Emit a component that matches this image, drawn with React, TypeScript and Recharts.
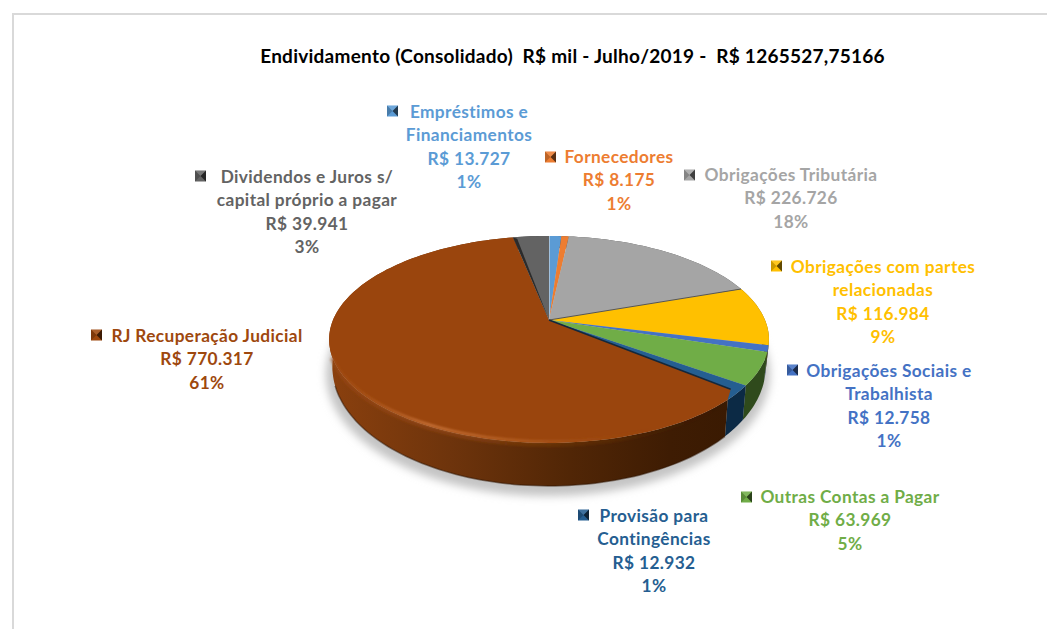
import { PieChart, Pie, Cell } from 'recharts'

const sliceNames = [
  'Empréstimos e Financiamentos', 'Fornecedores', 'Obrigações Tributária',
  'Obrigações com partes relacionadas', 'Obrigações Sociais e Trabalhista',
  'Outras Contas a Pagar', 'Provisão para Contingências',
  'RJ Recuperação Judicial', 'Dividendos e Juros s/ capital próprio a pagar',
]
const sliceValues = [13727, 8175, 226726, 116984, 12758, 63969, 12932, 770317, 39941]
const valueLabels = ['R$ 13.727', 'R$ 8.175', 'R$ 226.726', 'R$ 116.984', 'R$ 12.758', 'R$ 63.969', 'R$ 12.932', 'R$ 770.317', 'R$ 39.941']
const percentLabels = ['1%', '1%', '18%', '9%', '1%', '5%', '1%', '61%', '3%']
const nameLines = [
  ['Empréstimos e', 'Financiamentos'], ['Fornecedores'], ['Obrigações Tributária'],
  ['Obrigações com partes', 'relacionadas'], ['Obrigações Sociais e', 'Trabalhista'],
  ['Outras Contas a Pagar'], ['Provisão para', 'Contingências'],
  ['RJ Recuperação Judicial'], ['Dividendos e Juros s/', 'capital próprio a pagar'],
]

const topColors = ['#5b9bd5', '#ed7d31', '#a5a5a5', '#ffc000', '#4472c4', '#70ad47', '#255e91', '#9a450d', '#636363']
const textColors = ['#5b9bd5', '#ed7d31', '#a5a5a5', '#ffc000', '#4472c4', '#70ad47', '#255e91', '#9e480e', '#636363']
const wallColors = ['#2c4c69', '#743d18', '#515151', '#7d5e00', '#213860', '#2f4a1c', '#0c2a45', 'url(#rjWall)', '#303030']

// label layout: centre x, first line middle y, marker left x, marker middle y
const labelSpots = [
  [469, 111, 387, 111], [619, 156, 545, 157], [791, 174, 684, 175],
  [883, 266, 771, 266], [889, 370, 787, 370], [850, 496, 741, 497],
  [654, 515, 578, 515], [207, 335, 91, 335], [307, 176, 195, 176],
]

const chartData = sliceNames.map((name, i) => ({ name, value: sliceValues[i] }))

const CX = 549
const CY = 320
const RADIUS = 216
const SQUASH = 0.462
const PERSP = 0.188
const DISC_MID = 339.5
const LOW_MID = 367
const LOW_X = 0.985
const LOW_Y = 1.15
// the bevel pulls the RJ corner back, the slice before it shows round the corner
const BEVEL_DEG = 4.5
const FONT = 'Lato, Carlito, Calibri, sans-serif'

// tilted disc with some perspective, the apex is above the middle of the ellipse
function project(cx: number, cy: number, r: number, deg: number) {
  const a = (deg * Math.PI) / 180
  const u = Math.cos(a)
  const v = Math.sin(a)
  const d = 1 + PERSP * v
  return [cx + (r * u) / d, cy - (r * SQUASH * v) / d]
}

function lower(p: number[], cx: number) {
  return [cx + (p[0] - cx) * LOW_X, LOW_MID + (p[1] - DISC_MID) * LOW_Y]
}

function arcPoints(cx: number, cy: number, r: number, from: number, to: number) {
  const n = Math.max(2, Math.ceil(Math.abs(to - from) / 1.5))
  const pts: number[][] = []
  for (let i = 0; i <= n; i++) pts.push(project(cx, cy, r, from + ((to - from) * i) / n))
  return pts
}

const toPath = (pts: number[][]) => pts.map((p, i) => `${i ? 'L' : 'M'}${p[0].toFixed(1)} ${p[1].toFixed(1)}`).join(' ')

function WallShape(props: any) {
  const { cx, cy, outerRadius, startAngle, endAngle, index } = props
  const from = index === 7 ? startAngle - BEVEL_DEG : startAngle
  const to = index === 6 ? endAngle - BEVEL_DEG : endAngle
  const top = arcPoints(cx, cy, outerRadius, from, to)
  const low = top.map((p) => lower(p, cx)).reverse()
  const front = top.filter((p) => p[1] > DISC_MID + 14)
  return (
    <g>
      <path d={toPath([...top, ...low]) + ' Z'} fill={wallColors[index]} stroke="none" strokeLinejoin="round" />
      {index === 7 && (
        <>
          <path d={toPath(front.map((p) => [p[0], p[1] + 2]))} fill="none" stroke="url(#wallGlow)" strokeWidth={4} filter="url(#soft)" />
          <path d={toPath(front.map((p) => lower(p, cx)))} fill="none" stroke="#2e1402" strokeOpacity={0.5} strokeWidth={1.5} />
        </>
      )}
    </g>
  )
}

function TopShape(props: any) {
  const { cx, cy, outerRadius, startAngle, endAngle, fill, index } = props
  const isRj = index === 7
  const from = isRj ? startAngle - BEVEL_DEG : startAngle
  const to = index === 6 ? endAngle - BEVEL_DEG : endAngle
  const arc = arcPoints(cx, cy, outerRadius, from, to)
  const corner = project(cx, cy, outerRadius * 0.96, startAngle)
  const outline = isRj ? [[cx, cy], corner, ...arc] : [[cx, cy], ...arc]
  const front = arc.filter((p) => p[1] > DISC_MID + 14)
  return (
    <g>
      <path d={toPath(outline) + ' Z'} fill={fill} stroke="none" strokeLinejoin="round" />
      {isRj && (
        <path d={toPath(front.map((p) => [p[0], p[1] - 1.5]))} fill="none" stroke="url(#rimGlow)" strokeWidth={2.5} filter="url(#soft)" />
      )}
      {index === 8 && (
        <path
          d={toPath([[cx, cy], arc[0], project(cx, cy, outerRadius * 0.98, startAngle - 1.1)]) + ' Z'}
          fill="#2b2b2b"
        />
      )}
      {index === 3 && <path d={toPath([[cx, cy], arc[0]])} stroke="#555" strokeWidth={1} fill="none" />}
      {isRj && <path d={toPath([[cx, cy], corner])} stroke="#14283c" strokeWidth={1.5} fill="none" />}
      {index === 0 && <path d={toPath([[cx, cy], arc[0]])} stroke="#e8e8e8" strokeWidth={1} fill="none" />}
    </g>
  )
}

function KeyMarker({ x, y, color }: { x: number; y: number; color: string }) {
  const s = 11
  const t = y - s / 2
  const cx = x + s / 2
  return (
    <g>
      <rect x={x} y={t} width={s} height={s} fill={color} />
      <path d={`M${x} ${t} L${cx} ${y} L${x} ${t + s} Z`} fill="#000" fillOpacity={0.2} />
      <path d={`M${x + s} ${t} L${cx} ${y} L${x + s} ${t + s} Z`} fill="#000" fillOpacity={0.62} />
      <path d={`M${x} ${t} L${x + s} ${t} L${cx} ${y} Z`} fill="#fff" fillOpacity={0.12} />
    </g>
  )
}

function renderSliceLabel(props: any) {
  const i = props.index
  const [tx, ty, mx, my] = labelSpots[i]
  const lines = [...nameLines[i], valueLabels[i], percentLabels[i]]
  return (
    <g key={i}>
      <KeyMarker x={mx} y={my} color={textColors[i]} />
      {lines.map((line, j) => (
        <text
          key={j}
          x={tx}
          y={ty + j * 23.5}
          textAnchor="middle"
          dominantBaseline="central"
          fontFamily={FONT}
          fontWeight={700}
          fontSize={17.3}
          letterSpacing={0.38}
          fill={textColors[i]}
        >
          {line}
        </text>
      ))}
    </g>
  )
}

export default function App() {
  return (
    <div style={{ position: 'absolute', left: 0, top: 0, width: 1047, height: 629, background: '#fff', overflow: 'hidden' }}>
      <div style={{ position: 'absolute', left: 12, top: 13, right: 0, height: 2, background: '#d9d9d9' }} />
      <div style={{ position: 'absolute', left: 12, top: 13, bottom: 0, width: 2, background: '#d9d9d9' }} />
      <PieChart width={1047} height={629} margin={{ top: 0, right: 0, bottom: 0, left: 0 }}>
        <defs>
          <linearGradient id="rjWall" gradientUnits="userSpaceOnUse" x1={330} y1={0} x2={730} y2={0}>
            <stop offset="0" stopColor="#8a400e" />
            <stop offset="0.3" stopColor="#6e340c" />
            <stop offset="0.6" stopColor="#512606" />
            <stop offset="0.85" stopColor="#3e1c03" />
            <stop offset="1" stopColor="#3a1a02" />
          </linearGradient>
          <linearGradient id="rimGlow" gradientUnits="userSpaceOnUse" x1={330} y1={0} x2={730} y2={0}>
            <stop offset="0" stopColor="#b05a20" stopOpacity={0.15} />
            <stop offset="0.25" stopColor="#d07a40" stopOpacity={0.85} />
            <stop offset="0.5" stopColor="#c06a2c" stopOpacity={0.55} />
            <stop offset="0.8" stopColor="#9a450d" stopOpacity={0} />
          </linearGradient>
          <linearGradient id="wallGlow" gradientUnits="userSpaceOnUse" x1={330} y1={0} x2={730} y2={0}>
            <stop offset="0" stopColor="#9a4a12" stopOpacity={0.5} />
            <stop offset="0.35" stopColor="#9a4a12" stopOpacity={0.45} />
            <stop offset="0.7" stopColor="#7a3a0c" stopOpacity={0.25} />
            <stop offset="1" stopColor="#3a1a02" stopOpacity={0} />
          </linearGradient>
          <filter id="soft" x="-10%" y="-10%" width="120%" height="120%">
            <feGaussianBlur stdDeviation="1" />
          </filter>
          <filter id="shadowBlur" x="-10%" y="-10%" width="120%" height="120%">
            <feGaussianBlur stdDeviation="4" />
          </filter>
        </defs>
        <ellipse cx={CX - 1} cy={LOW_MID + 7} rx={222} ry={122} fill="#c4c4c4" filter="url(#shadowBlur)" />
        <text x={572.5} y={55} textAnchor="middle" dominantBaseline="central" fontFamily={FONT} fontWeight={700} fontSize={19} letterSpacing={0.25} fill="#000" style={{ whiteSpace: 'pre' }}>
          {'Endividamento (Consolidado)  R$ mil - Julho/2019 -  R$ 1265527,75166'}
        </text>
        <Pie
          data={chartData}
          dataKey="value"
          cx={CX}
          cy={CY}
          outerRadius={RADIUS}
          startAngle={90}
          endAngle={-270}
          stroke="none"
          shape={WallShape}
          isAnimationActive={false}
          legendType="none"
        >
          {chartData.map((_, i) => (
            <Cell key={i} fill={wallColors[i]} />
          ))}
        </Pie>
        <Pie
          data={chartData}
          dataKey="value"
          cx={CX}
          cy={CY}
          outerRadius={RADIUS}
          startAngle={90}
          endAngle={-270}
          stroke="none"
          shape={TopShape}
          label={renderSliceLabel}
          labelLine={false}
          isAnimationActive={false}
        >
          {chartData.map((_, i) => (
            <Cell key={i} fill={topColors[i]} />
          ))}
        </Pie>
      </PieChart>
    </div>
  )
}
